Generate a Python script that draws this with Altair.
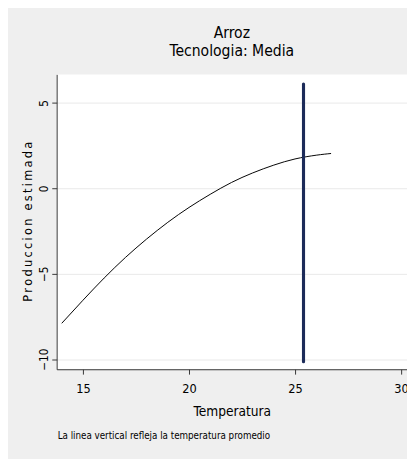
import altair as alt
import pandas as pd

temp = [14.0, 15.0, 16.0, 17.0, 18.0, 19.0, 20.0, 21.0, 22.0, 23.0, 24.0, 25.0, 26.0, 26.7]
prod = [-7.9, -6.55, -5.25, -4.05, -2.97, -1.99, -1.12, -0.35, 0.34, 0.9, 1.36, 1.72, 1.94, 2.04]

mean_temp = [25.4]
vline_lo = [-10.15]
vline_hi = [6.1]

x_ticks = [15, 20, 25, 30]
y_ticks = [-10, -5, 0, 5]

FONT = "Liberation Sans Narrow, DejaVu Sans Condensed, Arial Narrow, sans-serif"
Y_TITLE = "\u2009".join("Produccion estimada")

curve_df = pd.DataFrame({"t": temp, "p": prod})
vline_df = pd.DataFrame({"t": mean_temp, "lo": vline_lo, "hi": vline_hi})
note_df = pd.DataFrame({"txt": ["La linea vertical refleja la temperatura promedio"]})

xs = alt.Scale(domain=[13.76, 30.28], nice=False, zero=False)
ys = alt.Scale(domain=[-10.59, 6.67], nice=False, zero=False)

x_axis = alt.Axis(values=x_ticks, title="Temperatura", grid=False, labelFont=FONT,
                  labelFontSize=13, titleFont=FONT, titleFontSize=14, titleFontWeight="normal",
                  labelColor="#000", titleColor="#000", domainColor="#333", tickColor="#333",
                  tickSize=5, labelPadding=9, titlePadding=10)
y_axis = alt.Axis(values=y_ticks, title=Y_TITLE, grid=True, gridColor="#E8E8E8",
                  labelFont=FONT, labelFontSize=12, labelAngle=270, labelAlign="center",
                  labelBaseline="middle", titleFont=FONT,
                  titleFontSize=13, titleFontWeight="normal", labelColor="#000", titleColor="#000",
                  domainColor="#333", tickColor="#333", tickSize=5, labelPadding=8,
                  titleX=-30, titleY=151, titleAlign="center", titleBaseline="middle",
                  titleAngle=270)

curve = alt.Chart(curve_df).mark_line(color="black", strokeWidth=1, interpolate="natural").encode(
    x=alt.X("t:Q", scale=xs, axis=x_axis),
    y=alt.Y("p:Q", scale=ys, axis=y_axis),
)

vline = alt.Chart(vline_df).mark_rule(color="#1C2B59", strokeWidth=3.2, strokeCap="round").encode(
    x=alt.X("t:Q", scale=xs),
    y=alt.Y("lo:Q", scale=ys),
    y2="hi:Q",
)

note = alt.Chart(note_df).mark_text(align="left", baseline="alphabetic", font=FONT, fontSize=10,
                                    color="#000").encode(
    x=alt.value(1), y=alt.value(375), text="txt:N")

chart = alt.layer(curve, vline, note).properties(
    width=360, height=303,
    title=alt.TitleParams(["Arroz", "Tecnologia: Media"], font=FONT, fontSize=16,
                          fontWeight="normal", color="#000", anchor="middle", lineHeight=18,
                          offset=16),
    background="#EFEFEF",
    padding={"left": 50, "top": 62, "right": 0, "bottom": 86},
    autosize=alt.AutoSizeParams(type="none"),
).configure_view(fill="white", stroke=None)

chart.save("out.html", embed_options={"renderer": "svg", "actions": False})
